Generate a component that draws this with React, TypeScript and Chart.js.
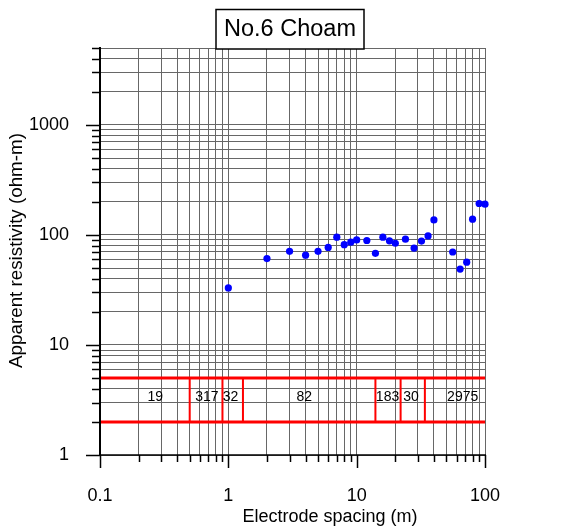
import React, { useEffect, useRef } from 'react';
import { Chart, registerables } from 'chart.js';

Chart.register(...registerables);

// ---- data ----
const spacing = [1, 2, 3, 4, 5, 6, 7, 8, 9, 10, 12, 14, 16, 18, 20, 24, 28, 32, 36, 40, 56, 64, 72, 80, 90, 100];
const resistivity = [33, 61, 71, 65.5, 71, 77, 95.5, 81.5, 86, 90, 89, 68, 95.5, 88.5, 84, 91.5, 76, 88, 98, 137, 70, 49, 56.5, 139, 193, 190.5];

const layerBoundaries = [0.5, 0.9, 1.3, 14, 22, 34];
const layerResistivity = ['19', '317', '32', '82', '183', '30', '2975'];
const layerLabelX = [0.27, 0.68, 1.04, 3.9, 17.4, 26.5, 67];
const layerTop = 5;
const layerBottom = 2;
const layerLabelY = 3.35;

const xMin = 0.1;
const xMax = 100;
const yMin = 1;
const yMax = 5000;

const xTickValues = [0.1, 0.2, 0.3, 0.4, 0.5, 0.6, 0.7, 0.8, 0.9, 1, 2, 3, 4, 5, 6, 7, 8, 9, 10, 20, 30, 40, 50, 60, 70, 80, 90, 100];
const yTickValues = [1, 2, 3, 4, 5, 6, 7, 8, 9, 10, 20, 30, 40, 50, 60, 70, 80, 90, 100, 200, 300, 400, 500, 600, 700, 800, 900, 1000, 2000, 3000, 4000, 5000];
const xTickLabels = ['0.1', '1', '10', '100'];
const yTickLabels = ['1', '10', '100', '1000'];

const titleText = 'No.6 Choam';
const xTitle = 'Electrode spacing (m)';
const yTitle = 'Apparent resistivity (ohm-m)';

const FONT = '"Liberation Sans", Arial, sans-serif';

const isMajor = (v: number) => {
  const l = Math.log10(v);
  return Math.abs(l - Math.round(l)) < 1e-9;
};
const fmt = (v: number, labels: string[]) => {
  if (!isMajor(v)) return '';
  const s = String(Number(v.toPrecision(6)));
  return labels.includes(s) ? s : '';
};

const decorPlugin = {
  id: 'decor',
  afterDatasetsDraw(chart: any) {
    const { ctx, scales } = chart;
    const x = scales.x;
    const y = scales.y;
    ctx.save();
    ctx.fillStyle = '#000';
    ctx.font = `14px ${FONT}`;
    ctx.textAlign = 'center';
    ctx.textBaseline = 'middle';
    const py = y.getPixelForValue(layerLabelY);
    layerResistivity.forEach((t, i) => {
      ctx.fillText(t, x.getPixelForValue(layerLabelX[i]), py);
    });
    ctx.restore();
  },
  afterDraw(chart: any) {
    const { ctx, chartArea: ca, scales } = chart;
    const x = scales.x;
    const y = scales.y;
    ctx.save();
    ctx.strokeStyle = '#000';
    // axis lines
    ctx.lineWidth = 2;
    ctx.beginPath();
    ctx.moveTo(ca.left, ca.top - 1);
    ctx.lineTo(ca.left, ca.bottom + 1);
    ctx.stroke();
    ctx.lineWidth = 1.5;
    ctx.beginPath();
    ctx.moveTo(ca.left, ca.bottom);
    ctx.lineTo(ca.right + 1, ca.bottom);
    ctx.stroke();
    // tick marks
    ctx.lineWidth = 1.5;
    yTickValues.forEach((v) => {
      const p = Math.round(y.getPixelForValue(v)) + 0.5;
      const len = isMajor(v) ? 14 : 8;
      ctx.beginPath();
      ctx.moveTo(ca.left - len, p);
      ctx.lineTo(ca.left, p);
      ctx.stroke();
    });
    xTickValues.forEach((v) => {
      const p = Math.round(x.getPixelForValue(v)) + 0.5;
      const len = isMajor(v) ? 13 : 7;
      ctx.beginPath();
      ctx.moveTo(p, ca.bottom);
      ctx.lineTo(p, ca.bottom + len);
      ctx.stroke();
    });
    // title box
    const bx = 216, by = 9.5, bw = 148, bh = 39.5;
    ctx.fillStyle = '#fff';
    ctx.fillRect(bx, by, bw, bh);
    ctx.lineWidth = 1.5;
    ctx.strokeRect(bx, by, bw, bh);
    ctx.fillStyle = '#000';
    ctx.font = `23.5px ${FONT}`;
    ctx.textAlign = 'center';
    ctx.textBaseline = 'middle';
    ctx.fillText(titleText, bx + bw / 2, by + bh / 2);
    // axis titles
    ctx.font = `18px ${FONT}`;
    ctx.fillText(xTitle, 330, 517);
    ctx.save();
    ctx.translate(17, 250.5);
    ctx.rotate(-Math.PI / 2);
    ctx.font = `18.8px ${FONT}`;
    ctx.fillText(yTitle, 0, 0);
    ctx.restore();
    ctx.restore();
  },
};

export default function App() {
  const ref = useRef<HTMLCanvasElement | null>(null);
  useEffect(() => {
    if (!ref.current) return;
    const verticals: any[] = [];
    layerBoundaries.forEach((b) => {
      verticals.push({ x: b, y: layerTop });
      verticals.push({ x: b, y: layerBottom });
      verticals.push({ x: b, y: null });
    });
    const gridColor = '#676767';
    const chart = new Chart(ref.current, {
      type: 'scatter',
      data: {
        datasets: [
          {
            label: 'Apparent resistivity',
            data: spacing.map((s, i) => ({ x: s, y: resistivity[i] })),
            pointRadius: 3.6,
            pointBackgroundColor: '#0000ff',
            pointBorderWidth: 0,
            showLine: false,
            clip: false,
          } as any,
          {
            label: 'top',
            data: [{ x: xMin, y: layerTop }, { x: xMax, y: layerTop }],
            showLine: true,
            borderColor: '#ff0000',
            borderWidth: 3,
            pointRadius: 0,
            clip: false,
          } as any,
          {
            label: 'bottom',
            data: [{ x: xMin, y: layerBottom }, { x: xMax, y: layerBottom }],
            showLine: true,
            borderColor: '#ff0000',
            borderWidth: 3,
            pointRadius: 0,
            clip: false,
          } as any,
          {
            label: 'bounds',
            data: verticals,
            showLine: true,
            spanGaps: false,
            borderColor: '#ff0000',
            borderWidth: 2,
            pointRadius: 0,
          } as any,
        ],
      },
      options: {
        animation: false,
        responsive: false,
        devicePixelRatio: 1,
        layout: { padding: { top: 48, right: 88, bottom: 0, left: 0 } },
        plugins: {
          legend: { display: false },
          tooltip: { enabled: false },
          title: { display: false },
        },
        scales: {
          x: {
            type: 'logarithmic',
            position: 'bottom',
            min: xMin,
            max: xMax,
            afterBuildTicks: (s: any) => {
              s.ticks = xTickValues.map((v) => ({ value: v, major: isMajor(v) }));
            },
            afterFit: (s: any) => {
              s.height = 76;
            },
            ticks: {
              autoSkip: false,
              maxRotation: 0,
              minRotation: 0,
              padding: 30,
              color: '#000',
              font: { family: FONT, size: 18 },
              callback: (v: any) => fmt(Number(v), xTickLabels),
            },
            grid: { color: gridColor, lineWidth: 1, drawTicks: false },
            border: { display: false },
          },
          y: {
            type: 'logarithmic',
            position: 'left',
            min: yMin,
            max: yMax,
            afterBuildTicks: (s: any) => {
              s.ticks = yTickValues.map((v) => ({ value: v, major: isMajor(v) }));
            },
            afterFit: (s: any) => {
              s.width = 100;
            },
            ticks: {
              autoSkip: false,
              padding: 31,
              color: '#000',
              font: { family: FONT, size: 18 },
              callback: (v: any) => fmt(Number(v), yTickLabels),
            },
            grid: { color: gridColor, lineWidth: 1, drawTicks: false },
            border: { display: false },
          },
        },
      } as any,
      plugins: [decorPlugin],
    });
    return () => chart.destroy();
  }, []);
  return (
    <div style={{ position: 'absolute', left: 0, top: 0, width: 573, height: 531, background: '#fff' }}>
      <canvas ref={ref} width={573} height={531} style={{ display: 'block', width: 573, height: 531 }} />
    </div>
  );
}
